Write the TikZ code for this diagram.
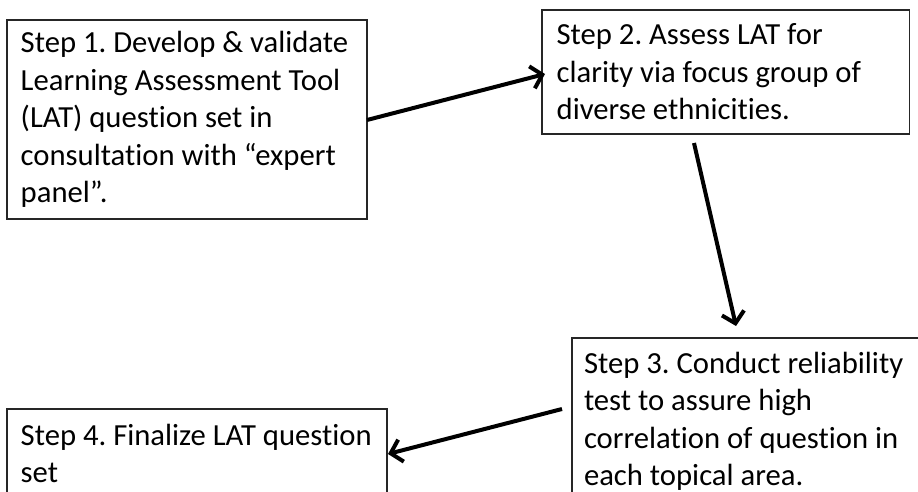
\documentclass[tikz,border=0pt]{standalone}
\usepackage{fontspec}
\setmainfont{Carlito}[Ligatures=NoCommon]
\usetikzlibrary{arrows.meta}
\DeclareRobustCommand\stepfont{\fontsize{23}{28.1}\selectfont\frenchspacing}
\tikzset{
  stepbox/.style={draw=black!85, line width=0.8pt, anchor=north west, align=left,
    inner xsep=10.3pt, inner ysep=0pt, outer sep=0pt, font=\stepfont,
    execute at begin node={\spaceskip=\fontdimen2\font\relax}},
  flow/.style={line width=3pt, -{Straight Barb[length=8pt,width=17pt,line width=3pt]}}
}
\begin{document}
\begin{tikzpicture}[x=0.75pt,y=-0.75pt]
\useasboundingbox (0,0) rectangle (918,492);
\clip (0,0) rectangle (918,492);
\node[stepbox, text width=249.4pt, minimum height=149.25pt] (s1) at (7,20)
  {\mbox{Step 1. Develop \& validate}\\\mbox{Learning Assessment Tool}\\\mbox{(LAT) question set in}\\\mbox{consultation with “expert}\\\mbox{panel”.}};
\node[stepbox, text width=253.5pt, minimum height=93pt, inner xsep=11pt] (s2) at (542,10)
  {\mbox{Step 2. Assess LAT for}\\\mbox{clarity via focus group of}\\\mbox{diverse ethnicities.}};
\node[stepbox, text width=250pt, inner xsep=9pt, inner ysep=10.5pt] (s3) at (572,338)
  {\mbox{Step 3. Conduct reliability}\\\mbox{test to assure high}\\\mbox{correlation of question in}\\\mbox{each topical area.}};
\node[stepbox, text width=264.4pt, inner ysep=11.2pt] (s4) at (7,409)
  {\mbox{Step 4. Finalize LAT question}\\\mbox{set}};
\draw[flow] ([shift={(0,100)}]s1.north east) -- ([shift={(3,64)}]s2.north west);
\draw[flow] ([shift={(152,9)}]s2.south west) -- ([shift={(164,-12)}]s3.north west);
\draw[flow] ([shift={(-10,71)}]s3.north west) -- ([shift={(1,45)}]s4.north east);
\end{tikzpicture}
\end{document}
